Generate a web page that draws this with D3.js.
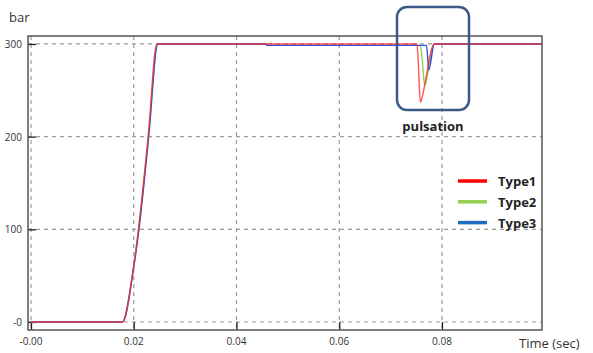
<!DOCTYPE html>
<html>
<head>
<meta charset="utf-8">
<script src="https://cdn.jsdelivr.net/npm/d3@7"></script>
<style>
  body { margin: 0; background: #fff; }
  svg text { font-family: "Open Sans", "Noto Sans", sans-serif; }
</style>
</head>
<body>
<div id="chart"></div>
<script>
// time (sec) / pressure (bar)
var type1 = [[0, 0], [0.0178, 0], [0.0199, 56], [0.0209, 99], [0.0228, 200], [0.0245, 300],
  [0.0751, 300], [0.07535, 285], [0.0755, 265], [0.0758, 237], [0.0760, 240], [0.0785, 300], [0.0995, 300]];
var type2 = [[0, 0], [0.0178, 0], [0.0199, 56], [0.0209, 99], [0.0229, 200], [0.0246, 300],
  [0.0458, 300], [0.0459, 298.5], [0.0758, 298.5], [0.0762, 280], [0.07665, 255], [0.0770, 262], [0.0785, 300], [0.0995, 300]];
var type3 = [[0, 0], [0.0178, 0], [0.0199, 56], [0.0210, 99], [0.0229, 200], [0.0247, 300],
  [0.0458, 300], [0.0459, 298.5], [0.0770, 298.5], [0.07743, 272], [0.0785, 300], [0.0995, 300]];
var seriesNames = ["Type1", "Type2", "Type3"];
var seriesColors = ["#ff2a2a", "#92d050", "#2f4fe0"];
var legendColors = ["#ff0000", "#92d050", "#1f6cc0"];
var xTicks = [0, 0.02, 0.04, 0.06, 0.08];
var xTickLabels = ["-0.00", "0.02", "0.04", "0.06", "0.08"];
var yTicks = [0, 100, 200, 300];
var yTickLabels = ["-0", "100", "200", "300"];

var width = 593, height = 353;
var plotL = 28, plotR = 542, plotT = 36, plotB = 330;

var svg = d3.select("#chart").append("svg")
  .attr("width", width)
  .attr("height", height);

var x = d3.scaleLinear().domain([-0.000584, 0.09947]).range([plotL, plotR]);
var y = d3.scaleLinear().domain([-8.63, 308.6]).range([plotB, plotT]);

// grid
svg.append("g").selectAll("line")
  .data(xTicks)
  .enter().append("line")
  .attr("x1", d => x(d)).attr("x2", d => x(d))
  .attr("y1", plotT).attr("y2", plotB)
  .attr("stroke", "#9a9a9a").attr("stroke-width", 1.2)
  .attr("stroke-dasharray", "4,4");
svg.append("g").selectAll("line")
  .data(yTicks)
  .enter().append("line")
  .attr("x1", plotL).attr("x2", plotR)
  .attr("y1", d => y(d)).attr("y2", d => y(d))
  .attr("stroke", "#9a9a9a").attr("stroke-width", 1.2)
  .attr("stroke-dasharray", "4,4");

// axes (ticks pointing inward)
var xAxis = d3.axisTop(x).tickValues(xTicks).tickSize(8).tickFormat("");
svg.append("g").attr("transform", "translate(0," + plotB + ")").call(xAxis)
  .call(g => g.select(".domain").remove())
  .selectAll("line").attr("stroke", "#222").attr("stroke-width", 1.3);
var yAxis = d3.axisRight(y).tickValues(yTicks).tickSize(8).tickFormat("");
svg.append("g").attr("transform", "translate(" + plotL + ",0)").call(yAxis)
  .call(g => g.select(".domain").remove())
  .selectAll("line").attr("stroke", "#222").attr("stroke-width", 1.3);

// tick labels
svg.append("g").selectAll("text")
  .data(xTicks)
  .enter().append("text")
  .attr("x", d => x(d)).attr("y", 345)
  .attr("text-anchor", "middle")
  .attr("font-size", 10).attr("fill", "#333")
  .text((d, i) => xTickLabels[i]);
svg.append("g").selectAll("text")
  .data(yTicks)
  .enter().append("text")
  .attr("x", 22).attr("y", d => y(d) + 4)
  .attr("text-anchor", "end")
  .attr("font-size", 10).attr("fill", "#333")
  .text((d, i) => yTickLabels[i]);

// frame
svg.append("rect")
  .attr("x", plotL).attr("y", plotT)
  .attr("width", plotR - plotL).attr("height", plotB - plotT)
  .attr("fill", "none").attr("stroke", "#555").attr("stroke-width", 1.5);

// series
var line = d3.line().curve(d3.curveMonotoneX).x(d => x(d[0])).y(d => y(d[1]));
var data = [type2, type3, type1];
var colorsInOrder = [seriesColors[1], seriesColors[2], seriesColors[0]];
svg.append("g").selectAll("path")
  .data(data)
  .enter().append("path")
  .attr("d", line)
  .attr("fill", "none")
  .attr("stroke", (d, i) => colorsInOrder[i])
  .attr("stroke-width", 1.4)
  .attr("stroke-opacity", (d, i) => i == 2 ? 0.8 : 1);

// axis titles
svg.append("text").attr("x", 9).attr("y", 22)
  .attr("font-size", 13).attr("fill", "#333").text("bar");
svg.append("text").attr("x", 519).attr("y", 348)
  .attr("font-size", 13).attr("fill", "#333").text("Time (sec)");

// pulsation annotation
svg.append("rect")
  .attr("x", 397).attr("y", 7)
  .attr("width", 72).attr("height", 103)
  .attr("rx", 10).attr("ry", 10)
  .attr("fill", "none").attr("stroke", "#3b5a85").attr("stroke-width", 2.5);
svg.append("text").attr("x", 433).attr("y", 131)
  .attr("text-anchor", "middle")
  .attr("font-size", 13).attr("font-weight", "bold").attr("fill", "#222")
  .text("pulsation");

// legend
var legend = svg.append("g").selectAll("g")
  .data(seriesNames)
  .enter().append("g")
  .attr("transform", (d, i) => "translate(458," + (181 + i * 20.8) + ")");
legend.append("line")
  .attr("x1", 0).attr("x2", 29)
  .attr("stroke", (d, i) => legendColors[i]).attr("stroke-width", 3.5);
legend.append("text")
  .attr("x", 40).attr("y", 5)
  .attr("font-size", 13).attr("font-weight", "bold").attr("fill", "#222")
  .text(d => d);
</script>
</body>
</html>
